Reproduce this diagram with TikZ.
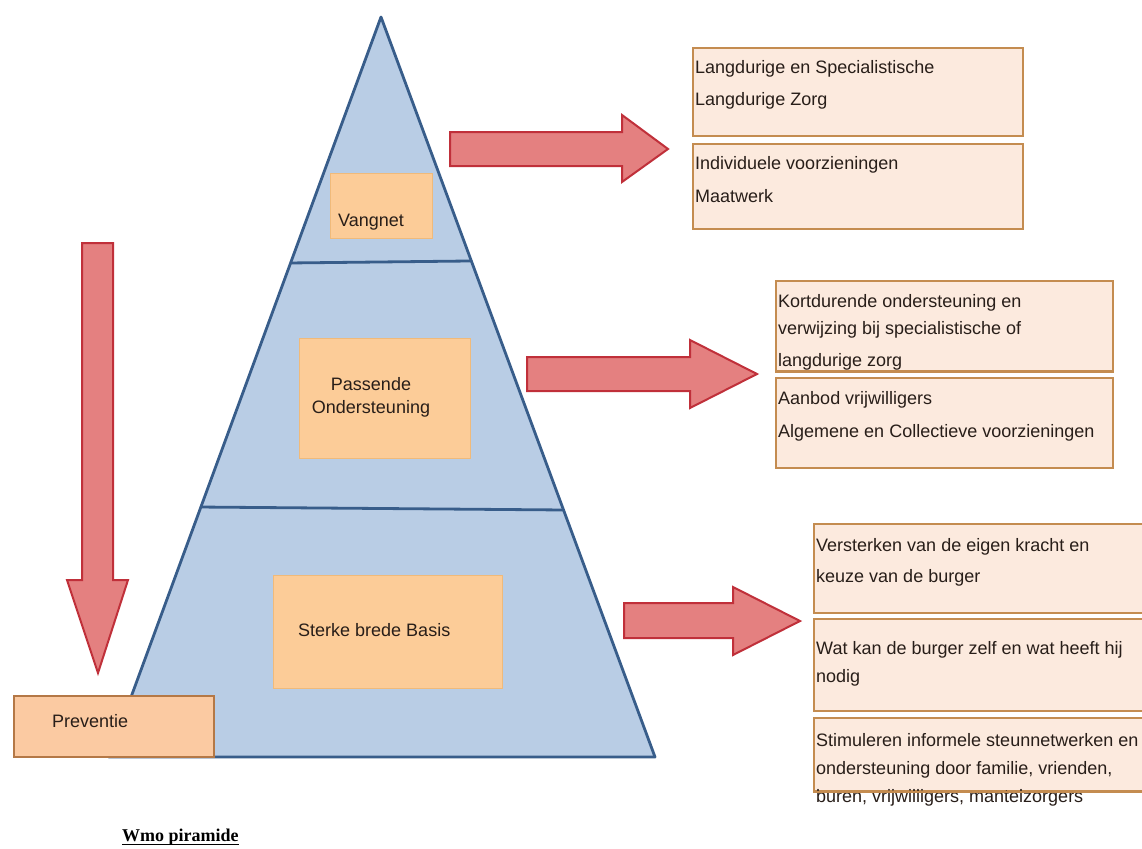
\documentclass[tikz,border=0pt]{standalone}
\usepackage{fontspec}
\setmainfont{Liberation Sans}
\newfontfamily\wmofont{Liberation Serif}
\usetikzlibrary{calc}
\definecolor{pyrfill}{RGB}{185,205,229}
\definecolor{pyredge}{RGB}{56,93,138}
\definecolor{inboxfill}{RGB}{252,204,152}
\definecolor{inboxedge}{RGB}{240,186,122}
\definecolor{arrfill}{RGB}{228,128,128}
\definecolor{arredge}{RGB}{192,48,58}
\definecolor{rboxfill}{RGB}{252,234,222}
\definecolor{rboxedge}{RGB}{196,140,80}
\definecolor{prevfill}{RGB}{251,202,162}
\definecolor{prevedge}{RGB}{180,120,70}
\definecolor{txtdark}{RGB}{40,30,25}
\begin{document}
\begin{tikzpicture}[x=1pt,y=-1pt,
  inbox/.style={draw=inboxedge, fill=inboxfill, line width=1, inner sep=0, anchor=north west},
  rbox/.style={draw=rboxedge, fill=rboxfill, line width=2.2, inner sep=0, anchor=north west},
  prevbox/.style={draw=prevedge, fill=prevfill, line width=2, inner sep=0, anchor=north west},
  ttext/.style={font=\fontsize{18}{21}\selectfont, text=txtdark, inner sep=0, text height=12, text depth=4, anchor=west},
  blockarrow/.style={draw=arredge, fill=arrfill, line width=2, line join=miter},
  layer/.style={draw=pyredge, line width=2.8}
]
\useasboundingbox (0,0) rectangle (1142,848);
\fill[white] (0,0) rectangle (1142,848);

% pyramid
\coordinate (apex) at (381,17);
\coordinate (bl) at (109,757);
\coordinate (br) at (655,757);
\filldraw[fill=pyrfill, draw=pyredge, line width=2.8, line join=round] (apex) -- (br) -- (bl) -- cycle;
\draw[layer] ($(apex)!0.3324!(bl)$) -- ($(apex)!0.3297!(br)$);
\draw[layer] ($(apex)!0.6622!(bl)$) -- ($(apex)!0.6662!(br)$);

% pyramid boxes
\node[inbox, minimum width=102, minimum height=65] (vang) at (330,173) {};
\node[ttext] (vangt) at (338,222) {Vangnet};
\node[inbox, minimum width=171, minimum height=120] (pas) at (299,338) {};
\node[font=\fontsize{18}{23}\selectfont, text=txtdark, align=center, inner sep=0] (past) at (371,397) {Passende\\Ondersteuning};
\node[inbox, minimum width=229, minimum height=113] (sterk) at (273,575) {};
\node[ttext] (sterkt) at (298,632) {Sterke brede Basis};

% preventie
\node[prevbox, minimum width=200, minimum height=61] (prev) at (13,695) {};
\node[ttext] (prevt) at (52,723) {Preventie};

% block arrows
\draw[blockarrow] (450,132) -- (622,132) -- (622,115) -- (668,149) -- (622,182) -- (622,166) -- (450,166) -- cycle;
\draw[blockarrow] (527,357) -- (690,357) -- (690,340) -- (757,374) -- (690,408) -- (690,391) -- (527,391) -- cycle;
\draw[blockarrow] (624,603) -- (733,603) -- (733,587) -- (800,621) -- (733,655) -- (733,638) -- (624,638) -- cycle;
\draw[blockarrow] (82,243) -- (113,243) -- (113,580) -- (128,580) -- (98,673) -- (67,580) -- (82,580) -- cycle;

% right boxes, top group
\node[rbox, minimum width=330, minimum height=88] (t1) at (692,47) {};
\node[ttext] (t1a) at (695,70) {Langdurige en Specialistische};
\node[ttext] (t1b) at (695,102) {Langdurige Zorg};
\node[rbox, minimum width=330, minimum height=85] (t2) at (692,143) {};
\node[ttext] (t2a) at (695,165) {Individuele voorzieningen};
\node[ttext] (t2b) at (695,198) {Maatwerk};

% right boxes, middle group
\node[rbox, minimum width=337, minimum height=90] (m1) at (775,280) {};
\node[ttext] (m1a) at (778,303) {Kortdurende ondersteuning en};
\node[ttext] (m1b) at (778,330) {verwijzing bij  specialistische of};
\node[ttext] (m1c) at (778,362) {langdurige zorg};
\draw[rboxedge, line width=2.2] (m1.south west) -- (m1.south east);
\node[rbox, minimum width=337, minimum height=90] (m2) at (775,377) {};
\node[ttext] (m2a) at (778,400) {Aanbod vrijwilligers};
\node[ttext] (m2b) at (778,433) {Algemene en Collectieve voorzieningen};

% right boxes, bottom group
\node[rbox, minimum width=340, minimum height=89] (b1) at (813,523) {};
\node[ttext] (b1a) at (816,547) {Versterken van de eigen kracht en};
\node[ttext] (b1b) at (816,578) {keuze van de burger};
\node[rbox, minimum width=340, minimum height=92] (b2) at (813,618) {};
\node[ttext] (b2a) at (816,650) {Wat kan de burger zelf en wat heeft hij};
\node[ttext] (b2b) at (816,678) {nodig};
\node[rbox, minimum width=340, minimum height=73] (b3) at (813,717) {};
\node[ttext] (b3a) at (816,742) {Stimuleren informele steunnetwerken en};
\node[ttext] (b3b) at (816,770) {ondersteuning door familie, vrienden,};
\node[ttext] (b3c) at (816,798) {buren, vrijwilligers, mantelzorgers};
\draw[rboxedge, line width=2.2] (b3.south west) -- (b3.south east);

% title
\node[font=\wmofont\bfseries\fontsize{18}{20}\selectfont, inner sep=0, anchor=base west] (title) at (122,841) {Wmo piramide};
\draw[line width=1.3] ($(title.base west)+(0,3.5)$) -- ($(title.base east)+(0,3.5)$);
\end{tikzpicture}
\end{document}
